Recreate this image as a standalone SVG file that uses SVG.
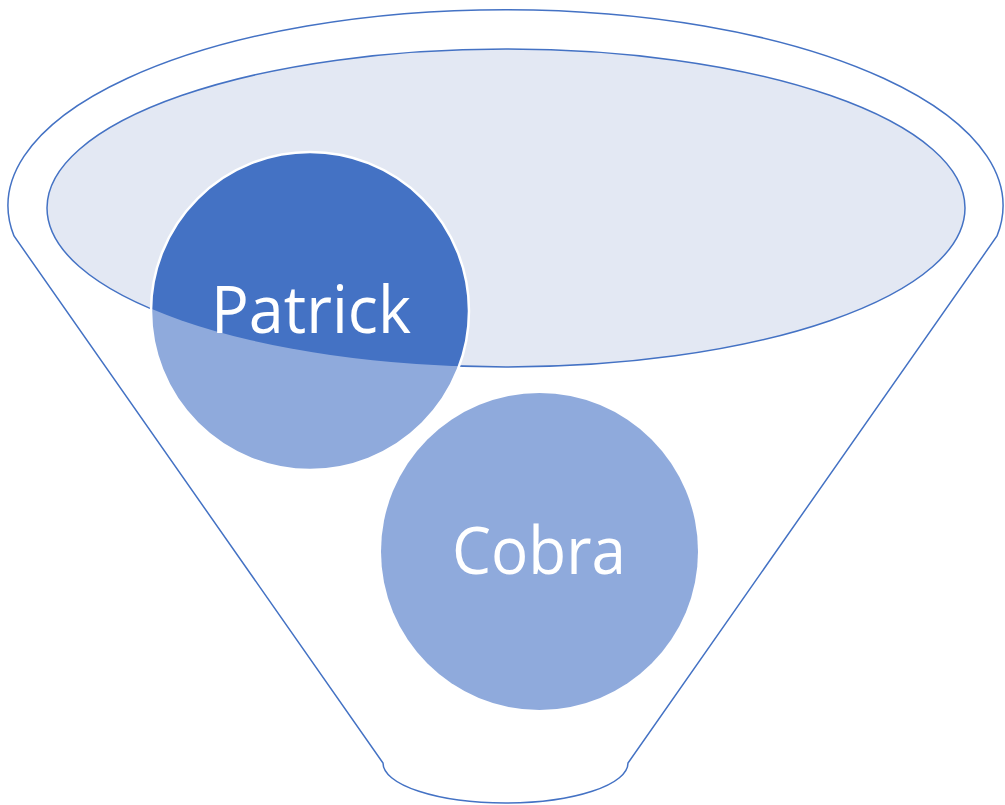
<svg xmlns="http://www.w3.org/2000/svg" width="1005" height="805" viewBox="0 0 1005 805">
  <style>
    .outline { fill: #ffffff; stroke: #4472C4; stroke-width: 1.5; }
    .rim { fill: #E3E8F3; stroke: #4472C4; stroke-width: 1.5; }
    .light { fill: #8FAADC; }
    .dark { fill: #4472C4; }
    .ring { fill: none; stroke: #ffffff; stroke-width: 2.5; }
    .label { fill: #ffffff; font-family: "Open Sans", "Liberation Sans", sans-serif; text-anchor: middle; font-size: 66px; }
  </style>
  <defs>
    <clipPath id="rimClip">
      <ellipse cx="506" cy="208" rx="459" ry="159"/>
    </clipPath>
  </defs>

  <!-- funnel body -->
  <g id="funnel">
    <path class="outline" d="M14,236 A497.5,196 0 1 1 997,236 L628,763 A122.5,40 0 0 1 383,763 Z"/>
    <ellipse class="rim" cx="506" cy="208" rx="459" ry="159"/>
  </g>

  <g id="connectors"></g>

  <!-- Patrick: darker where it sits inside the rim -->
  <g id="patrick">
    <circle class="light" cx="310" cy="311" r="159"/>
    <circle class="dark" cx="310" cy="311" r="159" clip-path="url(#rimClip)"/>
    <circle class="ring" cx="310" cy="311" r="159"/>
    <text class="label" x="311" y="333" textLength="200" lengthAdjust="spacingAndGlyphs">Patrick</text>
  </g>

  <g id="cobra">
    <circle class="light" cx="539.5" cy="551.5" r="158.5"/>
    <text class="label" x="539" y="574" textLength="174" lengthAdjust="spacingAndGlyphs">Cobra</text>
  </g>
</svg>
